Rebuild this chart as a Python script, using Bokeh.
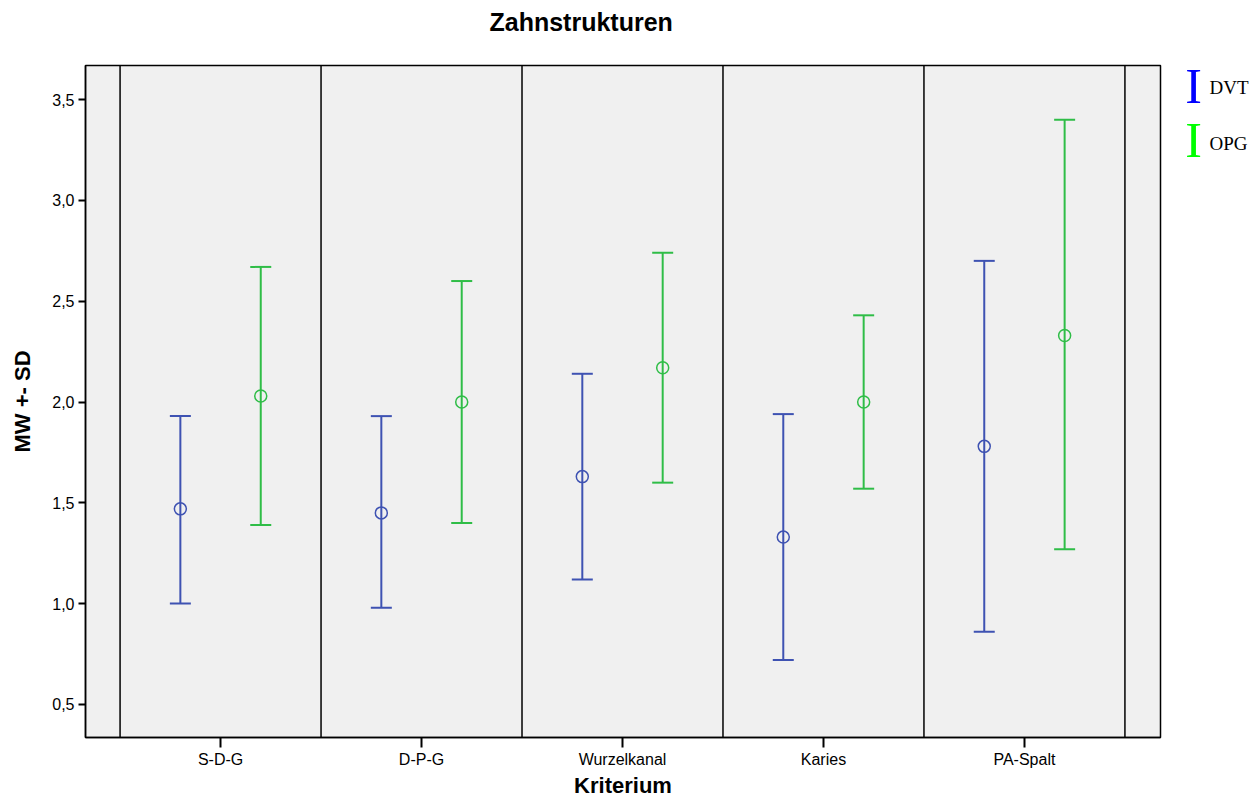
from bokeh.plotting import figure
from bokeh.layouts import row
from bokeh.models import (ColumnDataSource, Range1d, FixedTicker, Span, Whisker,
                          TeeHead, Title)
from bokeh.core.properties import value
from bokeh.embed import file_html
from bokeh.resources import INLINE

categories = ["S-D-G", "D-P-G", "Wurzelkanal", "Karies", "PA-Spalt"]
dvt_mean = [1.47, 1.45, 1.63, 1.33, 1.78]
dvt_upper = [1.93, 1.93, 2.14, 1.94, 2.70]
dvt_lower = [1.00, 0.98, 1.12, 0.72, 0.86]
opg_mean = [2.03, 2.00, 2.17, 2.00, 2.33]
opg_upper = [2.67, 2.60, 2.74, 2.43, 3.40]
opg_lower = [1.39, 1.40, 1.60, 1.57, 1.27]
y_ticks = [0.5, 1.0, 1.5, 2.0, 2.5, 3.0, 3.5]
y_tick_labels = ["0,5", "1,0", "1,5", "2,0", "2,5", "3,0", "3,5"]
series_names = ["DVT", "OPG"]
legend_colors = ["#0000ff", "#00ff00"]

DVT_COLOR = "#3e52b2"
OPG_COLOR = "#2fbd47"
FONT = "Liberation Sans"

p = figure(frame_width=1075, frame_height=672, output_backend="svg", toolbar_location=None,
           x_range=Range1d(-0.672, 4.677), y_range=Range1d(0.336, 3.669),
           min_border_left=85, min_border_right=2, min_border_top=65,
           min_border_bottom=58)
p.background_fill_color = "#f0f0f0"
p.border_fill_color = "white"
p.outline_line_color = "black"
p.outline_line_width = 1.5
p.xgrid.visible = False
p.ygrid.visible = False

p.title.text = "Zahnstrukturen"
p.title.text_font = FONT
p.title.text_font_size = "25px"
p.title.text_font_style = "bold"
p.title.text_color = "black"
p.title.align = "left"
p.title.offset = 404
p.title.vertical_align = "top"
p.title.standoff = 0

# blank spacer panel between the title and the frame
p.add_layout(Title(text=" ", text_font_size="23px", text_color="white",
                   vertical_align="top", standoff=0), "above")

# separators between categories
for i in range(len(categories) + 1):
    p.add_layout(Span(location=i - 0.5, dimension="height", line_color="black",
                      line_width=1.5))

idx = list(range(len(categories)))
dvt_src = ColumnDataSource(dict(x=[i - 0.2 for i in idx], m=dvt_mean, u=dvt_upper, l=dvt_lower))
opg_src = ColumnDataSource(dict(x=[i + 0.2 for i in idx], m=opg_mean, u=opg_upper, l=opg_lower))

for src, col in [(dvt_src, DVT_COLOR), (opg_src, OPG_COLOR)]:
    w = Whisker(source=src, base="x", upper="u", lower="l", line_color=col, line_width=2,
                upper_head=TeeHead(size=21, line_color=col, line_width=2),
                lower_head=TeeHead(size=21, line_color=col, line_width=2))
    p.add_layout(w)
    p.scatter("x", "m", source=src, marker="circle", size=12, fill_color=None,
              line_color=col, line_width=1.5)

# axes
p.xaxis.ticker = FixedTicker(ticks=idx)
p.xaxis.major_label_overrides = {i: c for i, c in enumerate(categories)}
p.yaxis.ticker = FixedTicker(ticks=y_ticks)
p.yaxis.major_label_overrides = {t: l for t, l in zip(y_ticks, y_tick_labels)}
for ax in (p.xaxis, p.yaxis):
    ax.axis_line_color = "black"
    ax.axis_line_width = 1.5
    ax.major_tick_line_color = "black"
    ax.major_tick_line_width = 2
    ax.minor_tick_line_color = None
    ax.major_tick_in = 0
    ax.major_label_text_font = FONT
    ax.major_label_text_font_size = "16px"
    ax.major_label_text_color = "black"
    ax.axis_label_text_font = FONT
    ax.axis_label_text_font_size = "22px"
    ax.axis_label_text_font_style = "bold"
    ax.axis_label_text_color = "black"
p.xaxis.major_tick_out = 10
p.yaxis.major_tick_out = 7
p.xaxis.major_label_standoff = 3
p.yaxis.major_label_standoff = 4
p.xaxis.axis_label = "Kriterium"
p.yaxis.axis_label = "MW +- SD"
p.xaxis.axis_label_standoff = 2
p.yaxis.axis_label_standoff = 14

# legend panel at the right (its frame is aligned with the main frame: 65..737 px)
lg = figure(width=97, height=798, output_backend="svg", toolbar_location=None,
            x_range=Range1d(0, 97), y_range=Range1d(737, 65),
            min_border=0, outline_line_color=None)
lg.axis.visible = False
lg.grid.visible = False
lg.background_fill_color = "white"
lg.border_fill_color = "white"
lg_src = ColumnDataSource(dict(name=series_names, color=legend_colors,
                               ix=[31, 31], iy=[86, 140], tx=[47, 47], ty=[87, 143]))
lg.text(x="ix", y="iy", text=value("I"), source=lg_src, text_color="color",
        text_font=value("Liberation Serif"), text_font_size="50px",
        text_align="center", text_baseline="middle")
lg.text(x="tx", y="ty", text="name", source=lg_src, text_color="black",
        text_font=value("Liberation Serif"), text_font_size="19px",
        text_align="left", text_baseline="alphabetic")

layout = row(p, lg, spacing=0)
open("out.html", "w").write(file_html(layout, INLINE))
